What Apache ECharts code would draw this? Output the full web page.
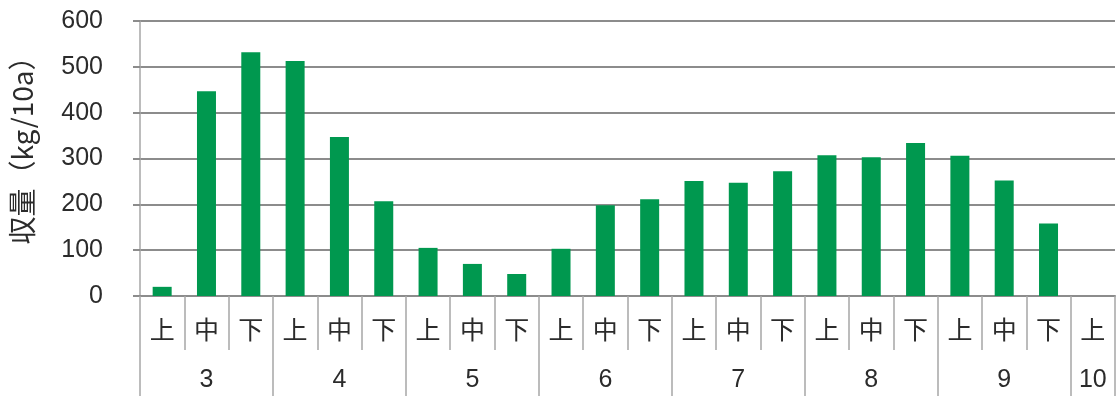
<!DOCTYPE html>
<html>
<head>
<meta charset="utf-8">
<script src="https://cdn.jsdelivr.net/npm/echarts@6/dist/echarts.min.js"></script>
<style>
  html, body { margin: 0; padding: 0; background: #ffffff; }
  #chart { width: 1116px; height: 396px; }
</style>
</head>
<body>
<div id="chart"></div>
<script>
// Harvest per ten-day period (上旬/中旬/下旬) of each month, kg/10a
const months = ['3', '4', '5', '6', '7', '8', '9', '10'];
const periods = ['上', '中', '下'];
const periodLabels = ['上','中','下','上','中','下','上','中','下','上','中','下','上','中','下','上','中','下','上','中','下','上'];
const monthOfPeriod = ['3','3','3','4','4','4','5','5','5','6','6','6','7','7','7','8','8','8','9','9','9','10'];
const yields = [20, 447, 532, 513, 347, 207, 105, 70, 48, 103, 198, 211, 251, 247, 272, 307, 303, 334, 306, 252, 158, null];
const yTicks = [0, 100, 200, 300, 400, 500, 600];

const font = "'Liberation Sans', 'Noto Sans CJK JP', sans-serif";
const cjkFont = "'Noto Sans CJK JP', 'Liberation Sans', sans-serif";
const gridGray = '#8c8c8c';
const divGray = '#a6a6a6';
const textColor = '#2b2b2b';

// month group starts: first period of every month
const monthStart = (i) => i === 0 || monthOfPeriod[i] !== monthOfPeriod[i - 1];
// label each month under its middle period (or its only period)
const monthLabelAt = (i) => {
  const m = monthOfPeriod[i];
  const idx = [];
  monthOfPeriod.forEach((v, k) => { if (v === m) idx.push(k); });
  return idx[Math.floor((idx.length - 1) / 2)] === i;
};

const chart = echarts.init(document.getElementById('chart'), null, { renderer: 'canvas' });
chart.setOption({
  backgroundColor: '#ffffff',
  animation: false,
  grid: { left: 140, top: 21, width: 975, height: 275, containLabel: false, outerBoundsMode: 'none' },
  xAxis: [
    {
      type: 'category',
      position: 'bottom',
      data: periodLabels,
      axisLine: { show: true, lineStyle: { color: gridGray, width: 2 } },
      axisTick: { show: true, interval: 0, length: 54, lineStyle: { color: divGray, width: 1.5 } },
      axisLabel: { interval: 0, margin: 21, fontSize: 25, color: textColor, fontFamily: cjkFont },
      splitLine: { show: false }
    },
    {
      type: 'category',
      position: 'bottom',
      data: monthOfPeriod,
      axisLine: { show: false },
      axisTick: { show: true, interval: (i) => monthStart(i), length: 100, lineStyle: { color: divGray, width: 1.5 } },
      axisLabel: {
        interval: (i) => monthLabelAt(i),
        margin: 72, fontSize: 25, color: textColor, fontFamily: font
      },
      splitLine: { show: false }
    }
  ],
  yAxis: {
    type: 'value',
    min: yTicks[0],
    max: yTicks[yTicks.length - 1],
    interval: 100,
    name: '収量（kg/10a）',
    nameLocation: 'middle',
    nameRotate: 90,
    nameGap: 104,
    nameTextStyle: { fontSize: 28, color: textColor, fontFamily: cjkFont, padding: [0, 0, 0, 30] },
    axisLine: { show: true, lineStyle: { color: divGray, width: 1.5 } },
    axisTick: { show: true, inside: false, length: 7, lineStyle: { color: gridGray, width: 2 } },
    axisLabel: { margin: 37, fontSize: 25, color: textColor, fontFamily: font },
    splitLine: { show: true, lineStyle: { color: gridGray, width: 2 } }
  },
  series: [
    {
      type: 'bar',
      xAxisIndex: 0,
      data: yields,
      barWidth: 19,
      itemStyle: { color: '#00984f' }
    }
  ]
});
</script>
</body>
</html>
